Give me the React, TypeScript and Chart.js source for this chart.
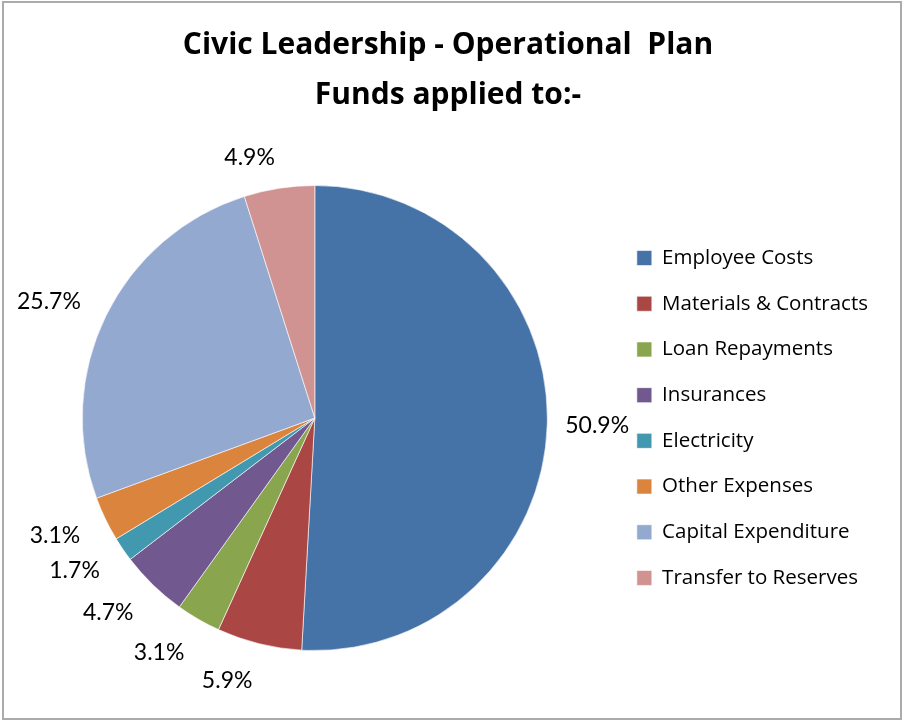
import React, { useEffect, useRef } from 'react';
import Chart from 'chart.js/auto';

const categories = [
  'Employee Costs',
  'Materials & Contracts',
  'Loan Repayments',
  'Insurances',
  'Electricity',
  'Other Expenses',
  'Capital Expenditure',
  'Transfer to Reserves',
];
const shares = [50.9, 5.9, 3.1, 4.7, 1.7, 3.1, 25.7, 4.9];
const sliceColours = ['#4572A7', '#AA4643', '#89A54E', '#71588F', '#4198AF', '#DB843D', '#93A9CF', '#D19392'];
const titleLines = ['Civic Leadership - Operational  Plan', 'Funds applied to:-'];

// percentages drawn just outside each slice, like Excel's "outside end"
const outsideLabels = {
  id: 'outsideLabels',
  afterDatasetsDraw(chart: any) {
    const { ctx } = chart;
    const meta = chart.getDatasetMeta(0);
    ctx.save();
    ctx.font = '23px Lato';
    ctx.fillStyle = '#000';
    ctx.textBaseline = 'middle';
    meta.data.forEach((arc: any, i: number) => {
      const { x, y, startAngle, endAngle, outerRadius } = arc.getProps(
        ['x', 'y', 'startAngle', 'endAngle', 'outerRadius'],
        true
      );
      const mid = (startAngle + endAngle) / 2;
      const cos = Math.cos(mid);
      const sin = Math.sin(mid);
      const dist = outerRadius + (cos < 0 ? 28 : 18);
      ctx.textAlign = cos < 0 ? 'right' : 'left';
      const dy = sin > 0 ? sin * 10 : sin * 3;
      ctx.fillText(shares[i].toFixed(1) + '%', x + cos * dist, y + sin * dist + dy);
    });
    ctx.restore();
  },
};

function App() {
  const chartRef = useRef<HTMLCanvasElement>(null);

  useEffect(() => {
    let myChart: any = null;
    if (chartRef.current) {
      myChart = new Chart(chartRef.current, {
        type: 'pie',
        data: {
          labels: categories,
          datasets: [
            {
              data: shares,
              backgroundColor: sliceColours,
              borderColor: 'rgba(255,255,255,0.6)',
              borderWidth: 1,
            },
          ],
        },
        options: {
          animation: false,
          responsive: true,
          maintainAspectRatio: false,
          layout: { padding: { left: 18, right: 26, top: 0, bottom: 69 } },
          plugins: {
            title: {
              display: true,
              text: titleLines,
              color: '#000',
              font: { family: 'Open Sans', size: 30, weight: 'bold', lineHeight: '50px' },
              padding: { top: 20, bottom: 65 },
            },
            legend: {
              position: 'right',
              align: 'center',
              fullSize: false,
              labels: {
                boxWidth: 15,
                boxHeight: 15,
                padding: 25.2,
                color: '#000',
                font: { family: 'Open Sans', size: 20.5 },
              },
            },
            tooltip: { enabled: false },
          },
        },
        plugins: [outsideLabels],
      });
    }

    return () => {
      if (myChart) myChart.destroy();
    };
  }, []);

  return (
    <div style={{ position: 'absolute', left: 0, top: 0, width: 904, height: 720, background: '#fff' }}>
      <div
        style={{
          position: 'absolute',
          left: 2,
          top: 1,
          width: 900,
          height: 719,
          border: '2px solid #ababab',
          boxSizing: 'border-box',
        }}
      />
      <div style={{ position: 'absolute', left: 0, top: 0, width: 904, height: 720 }}>
        <canvas ref={chartRef} />
      </div>
    </div>
  );
}

export default App;
